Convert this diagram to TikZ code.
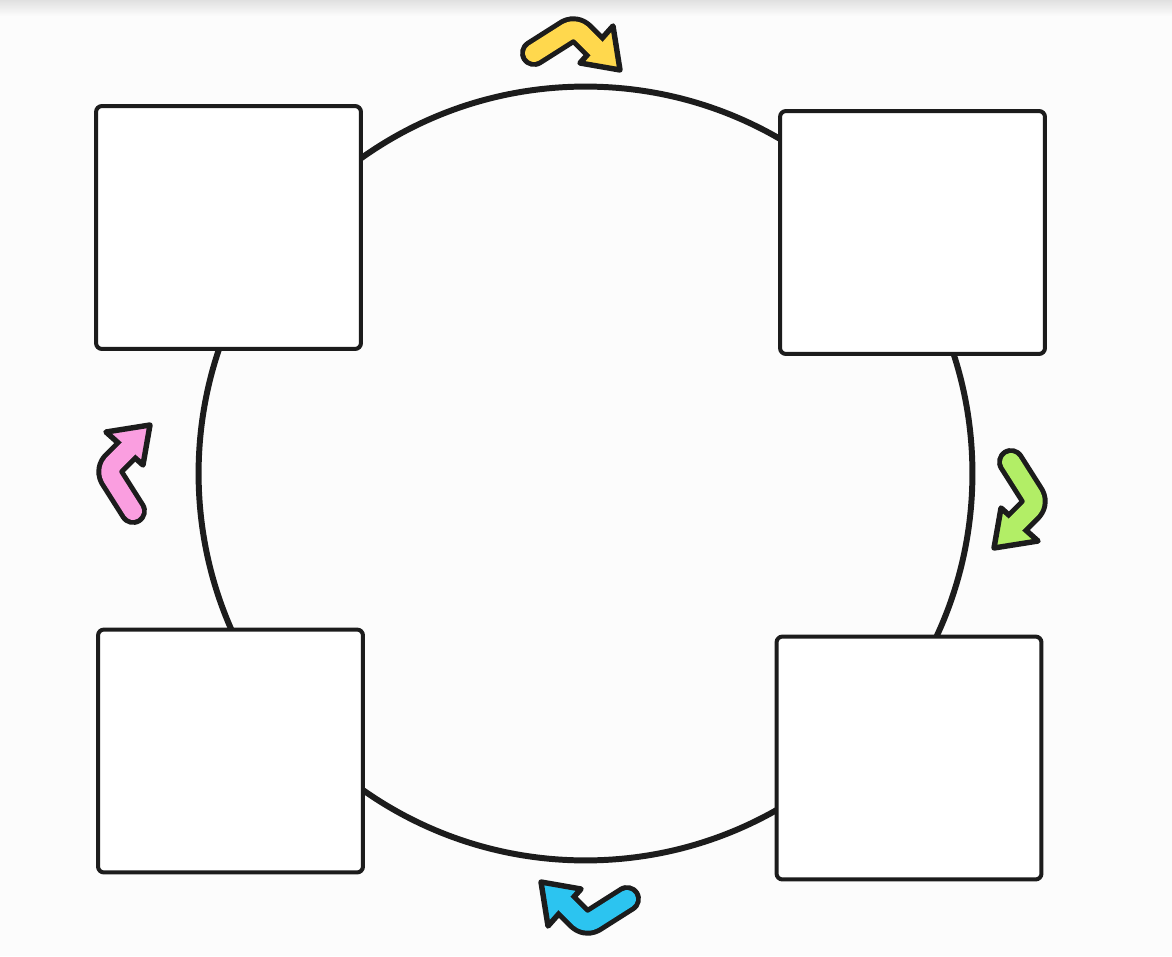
\documentclass[tikz,border=0pt]{standalone}
\usetikzlibrary{shadings}
\definecolor{ayellow}{RGB}{255,216,77}
\definecolor{agreen}{RGB}{178,238,102}
\definecolor{ablue}{RGB}{44,196,240}
\definecolor{apink}{RGB}{250,158,224}
\definecolor{ink}{RGB}{28,28,28}
\definecolor{bg}{RGB}{252,252,252}
\tikzset{
  box/.style={draw=ink, line width=2.27pt, rounded corners=0.12cm, fill=white,
    minimum width=5.3cm, minimum height=4.86cm, inner sep=0pt},
  ring/.style={draw=ink, line width=3.4pt, circle, minimum size=15.48cm, inner sep=0pt},
  pics/bent/.style={code={
    \draw[ink, line width=15.9pt, line cap=round, line join=round, rounded corners=0.18cm]
      (-37,12) -- (4,-14) -- (26,8);
    \filldraw[draw=ink, fill=#1, line width=3.1pt, line join=round]
      (9,22) -- (49,29) -- (42,-15) -- cycle;
    \draw[#1, line width=10.2pt, line cap=round, line join=round, rounded corners=0.18cm]
      (-37,12) -- (4,-14) -- (26,8);
  }}
}
\begin{document}
\begin{tikzpicture}[x=0.02cm, y=-0.02cm]
  \useasboundingbox (0,0) rectangle (1172,956);
  \fill[bg] (0,0) rectangle (1172,956);
  \shade[top color=black!12, bottom color=bg] (0,0) rectangle (1172,16);
  \node[ring] (cycle) at (585.5,473.5) {};
  \node[box] (tl) at (228.5,227.5) {};
  \node[box] (tr) at (912.5,232.5) {};
  \node[box] (bl) at (230.5,751) {};
  \node[box] (br) at (909,758) {};
  \pic at (571,41) {bent=ayellow};
  \pic[rotate=-90] at (1023,499) {bent=agreen};
  \pic[rotate=180] at (590,911) {bent=ablue};
  \pic[rotate=90] at (121,474) {bent=apink};
\end{tikzpicture}
\end{document}
